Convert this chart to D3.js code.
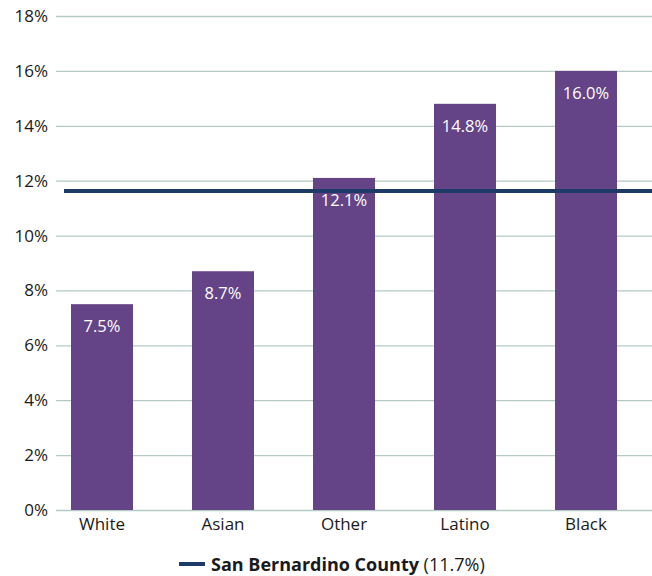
<!DOCTYPE html>
<html>
<head>
<meta charset="utf-8">
<script src="https://cdn.jsdelivr.net/npm/d3@7"></script>
<style>
  body { margin: 0; background: #fff; }
  svg text { font-family: "Open Sans", "Noto Sans", sans-serif; }
  .tick text { font-size: 17px; fill: #1a1a1a; }
</style>
</head>
<body>
<div id="chart"></div>
<script>
const categories = ["White", "Asian", "Other", "Latino", "Black"];
const values = [7.5, 8.7, 12.1, 14.8, 16.0];
const yTicks = [0, 2, 4, 6, 8, 10, 12, 14, 16, 18];
const countyName = "San Bernardino County";
const countyValue = 11.7;

const width = 652;
const height = 576;

const svg = d3.select("#chart").append("svg")
  .attr("width", width)
  .attr("height", height);

const x = d3.scaleBand()
  .domain(categories)
  .range([41.5, 646.5])
  .paddingInner(0.4876)
  .paddingOuter(0.2438);

const y = d3.scaleLinear()
  .domain([0, 18])
  .range([510, 16]);

// gridlines + y labels
const yAxis = svg.append("g")
  .attr("transform", "translate(56,0)")
  .call(d3.axisLeft(y)
    .tickValues(yTicks)
    .tickFormat(d => d + "%")
    .tickSize(-(width - 56))
    .tickPadding(8));
yAxis.select(".domain").remove();
yAxis.selectAll(".tick line").attr("stroke", "#b3cbc3").attr("stroke-width", 1.3);

// bars
svg.selectAll(".bar")
  .data(values)
  .enter()
  .append("rect")
  .attr("class", "bar")
  .attr("x", (d, i) => x(categories[i]))
  .attr("width", x.bandwidth())
  .attr("y", d => y(d))
  .attr("height", d => y(0) - y(d))
  .attr("fill", "#654387");

// county line
svg.append("line")
  .attr("x1", 64)
  .attr("x2", width)
  .attr("y1", y(countyValue) + 2)
  .attr("y2", y(countyValue) + 2)
  .attr("stroke", "#1e3a66")
  .attr("stroke-width", 4);

// value labels
svg.selectAll(".valor")
  .data(values)
  .enter()
  .append("text")
  .attr("class", "valor")
  .attr("x", (d, i) => x(categories[i]) + x.bandwidth() / 2)
  .attr("y", d => y(d) + 28)
  .attr("text-anchor", "middle")
  .attr("fill", "#fff")
  .style("font-size", "16.5px")
  .text(d => d.toFixed(1) + "%");

// x axis labels
const xAxis = svg.append("g")
  .attr("transform", `translate(0,${y(0)})`)
  .call(d3.axisBottom(x).tickSize(0).tickPadding(8));
xAxis.select(".domain").remove();
xAxis.selectAll(".tick text").style("font-size", "17px");

// legend
const legend = svg.append("g").attr("transform", "translate(179,564)");
legend.append("line")
  .attr("x1", 0).attr("x2", 26)
  .attr("stroke", "#1e3a66")
  .attr("stroke-width", 4);
const lt = legend.append("text")
  .attr("x", 32)
  .attr("y", 6.5)
  .style("font-size", "18px")
  .attr("fill", "#1a1a1a");
lt.append("tspan").attr("font-weight", "bold").text(countyName);
lt.append("tspan").text(` (${countyValue}%)`);
</script>
</body>
</html>
